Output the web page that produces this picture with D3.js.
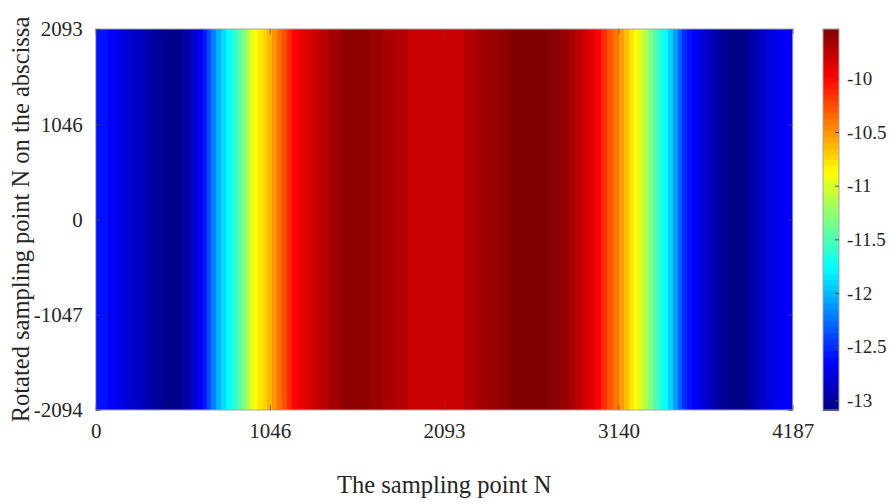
<!DOCTYPE html>
<html>
<head>
<meta charset="utf-8">
<script src="https://cdn.jsdelivr.net/npm/d3@7/dist/d3.min.js"></script>
<style>
  html, body { margin: 0; padding: 0; background: #fff; }
  svg { display: block; }
  text { font-family: "Liberation Serif", "Times New Roman", serif; fill: #262626; }
</style>
</head>
<body>
<svg id="chart" width="892" height="504"></svg>
<script>
// ---- data ----
const sampleN = [0, 50, 98, 146, 194, 248, 296, 344, 398, 446, 494, 548, 597, 633, 657, 681, 705, 735, 765, 795,
  825, 855, 885, 915, 939, 963, 987, 1017, 1047, 1077, 1107, 1137, 1167, 1197, 1239, 1275, 1317, 1359, 1437, 1516,
  1600, 1678, 1756, 1840, 1918, 2008, 2098, 2176, 2248, 2320, 2399, 2459, 2519, 2609, 2699, 2759, 2819, 2862, 2898,
  2939, 2981, 3017, 3053, 3089, 3125, 3161, 3191, 3221, 3245, 3276, 3300, 3330, 3360, 3390, 3420, 3450, 3480, 3510,
  3540, 3570, 3600, 3648, 3702, 3750, 3798, 3852, 3900, 3948, 4003, 4051, 4099, 4147, 4187];
const values = [-12.59, -12.59, -12.66, -12.73, -12.81, -12.84, -12.91, -12.97, -13.02, -13.07, -13.05, -12.95, -12.81,
  -12.66, -12.56, -12.38, -12.20, -12.03, -11.88, -11.76, -11.63, -11.49, -11.31, -11.14, -10.96, -10.87, -10.78,
  -10.71, -10.61, -10.50, -10.36, -10.25, -10.11, -9.98, -9.91, -9.86, -9.81, -9.75, -9.66, -9.59, -9.59, -9.63,
  -9.68, -9.72, -9.79, -9.79, -9.79, -9.79, -9.72, -9.66, -9.63, -9.59, -9.54, -9.54, -9.54, -9.58, -9.63, -9.68,
  -9.75, -9.82, -9.89, -9.98, -10.14, -10.29, -10.39, -10.53, -10.64, -10.78, -10.87, -10.99, -11.14, -11.31,
  -11.49, -11.63, -11.76, -11.92, -12.10, -12.31, -12.49, -12.59, -12.66, -12.77, -12.88, -12.98, -13.05, -13.07,
  -13.05, -12.95, -12.84, -12.77, -12.70, -12.66, -12.65];
const xTicks = [0, 1046, 2093, 3140, 4187];
const yTicks = [-2094, -1047, 0, 1046, 2093];
const cbTicks = [-13, -12.5, -12, -11.5, -11, -10.5, -10];
const xDomain = [0, 4187];
const yDomain = [-2094, 2093];
const cDomain = [-13.09, -9.54];
const xTitle = "The sampling point N";
const yTitle = "Rotated sampling point N on the abscissa";

// ---- layout ----
const svg = d3.select("#chart");
const L = 95.7, T = 29, W = 697, H = 381;
const cbX = 823, cbW = 16;

const x = d3.scaleLinear().domain(xDomain).range([L, L + W]);
const y = d3.scaleLinear().domain(yDomain).range([T + H, T]);

// jet colormap
const jetT = [0, 0.125, 0.375, 0.625, 0.875, 1];
const jetC = ["#000080", "#0000ff", "#00ffff", "#ffff00", "#ff0000", "#800000"];
const jet = d3.scaleLinear().domain(jetT).range(jetC).interpolate(d3.interpolateRgb).clamp(true);
const norm = d3.scaleLinear().domain(cDomain).range([0, 1]).clamp(true);
const color = v => jet(norm(v));
const fmt = d => String(d); // plain hyphen-minus like the reference

// heatmap cells (one column per sample, spanning full y range)
const cells = sampleN.map((n, i) => {
  const x0 = i === 0 ? xDomain[0] : (sampleN[i - 1] + n) / 2;
  const x1 = i === sampleN.length - 1 ? xDomain[1] : (n + sampleN[i + 1]) / 2;
  return { x0, x1, v: values[i] };
});
svg.append("g").selectAll("rect").data(cells).join("rect")
  .attr("x", d => x(d.x0))
  .attr("width", d => x(d.x1) - x(d.x0) + 0.6)
  .attr("y", y(yDomain[1]))
  .attr("height", y(yDomain[0]) - y(yDomain[1]))
  .attr("fill", d => color(d.v))
  .attr("shape-rendering", "crispEdges");

// box
svg.append("rect").attr("x", L).attr("y", T).attr("width", W).attr("height", H)
  .attr("fill", "none").attr("stroke", "#a6a6a6").attr("stroke-width", 1);

// axes
const tickLen = 5;
const xAxis = svg.append("g").attr("transform", `translate(0,${T + H})`)
  .call(d3.axisBottom(x).tickValues(xTicks).tickFormat(fmt).tickSize(-tickLen).tickPadding(17));
const xAxisTop = svg.append("g").attr("transform", `translate(0,${T})`)
  .call(d3.axisTop(x).tickValues(xTicks).tickFormat("").tickSize(-tickLen));
const yAxis = svg.append("g").attr("transform", `translate(${L},0)`)
  .call(d3.axisLeft(y).tickValues(yTicks).tickFormat(fmt).tickSize(-tickLen).tickPadding(13));
const yAxisR = svg.append("g").attr("transform", `translate(${L + W},0)`)
  .call(d3.axisRight(y).tickValues(yTicks).tickFormat("").tickSize(-tickLen));
[xAxis, xAxisTop, yAxis, yAxisR].forEach(g => {
  g.select(".domain").remove();
  g.selectAll(".tick line").attr("stroke", "#4d4d4d").attr("stroke-opacity", 0.7);
  g.selectAll(".tick text").attr("font-size", 21).attr("font-family", "Liberation Serif").attr("fill", "#262626");
});
xAxis.selectAll(".tick text").attr("dy", "0.5em");

// colorbar (64 discrete levels like MATLAB)
const cy = d3.scaleLinear().domain(cDomain).range([T + H, T]);
const nLev = 64;
const levels = d3.range(nLev).map(i => ({
  a: cDomain[0] + (cDomain[1] - cDomain[0]) * i / nLev,
  b: cDomain[0] + (cDomain[1] - cDomain[0]) * (i + 1) / nLev
}));
svg.append("g").selectAll("rect").data(levels).join("rect")
  .attr("x", cbX).attr("width", cbW)
  .attr("y", d => cy(d.b)).attr("height", d => cy(d.a) - cy(d.b) + 0.5)
  .attr("fill", d => color((d.a + d.b) / 2))
  .attr("shape-rendering", "crispEdges");
svg.append("rect").attr("x", cbX).attr("y", T).attr("width", cbW).attr("height", H)
  .attr("fill", "none").attr("stroke", "#a6a6a6");
const cAxis = svg.append("g").attr("transform", `translate(${cbX + cbW},0)`)
  .call(d3.axisRight(cy).tickValues(cbTicks).tickFormat(fmt).tickSize(-4).tickPadding(8));
cAxis.select(".domain").remove();
cAxis.selectAll(".tick line").attr("stroke", "#4d4d4d");
cAxis.selectAll(".tick text").attr("font-size", 19).attr("font-family", "Liberation Serif").attr("fill", "#262626");

// titles
svg.append("text").attr("x", L + W / 2).attr("y", 493).attr("text-anchor", "middle")
  .attr("font-size", 24.5).text(xTitle);
svg.append("text").attr("transform", `translate(29,${T + H / 2}) rotate(-90)`)
  .attr("text-anchor", "middle").attr("font-size", 24.5).text(yTitle);
</script>
</body>
</html>
